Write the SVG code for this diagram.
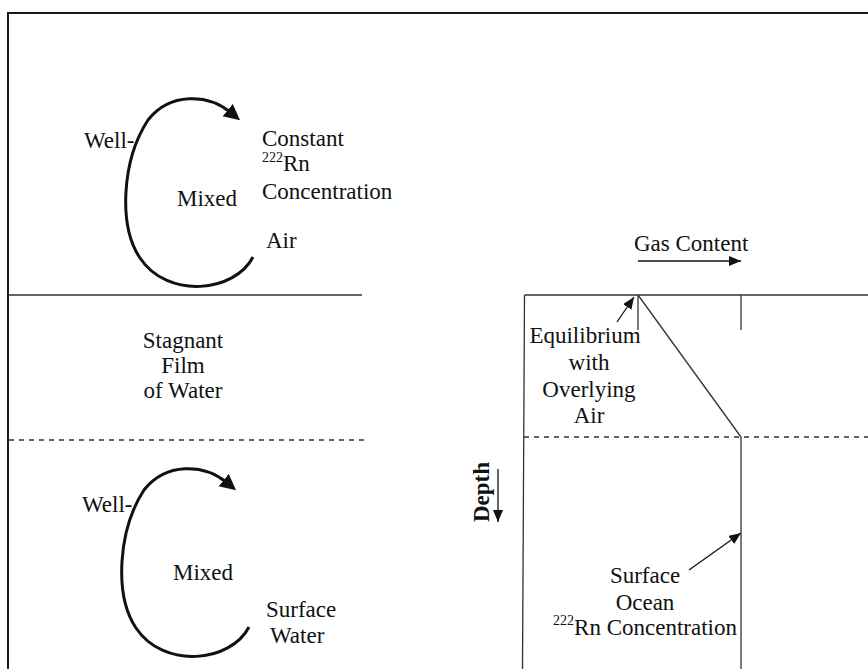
<svg xmlns="http://www.w3.org/2000/svg" width="868" height="669" viewBox="0 0 868 669">
  <style>
    text { font-family: "Liberation Serif", "Times New Roman", serif; font-size: 23px; fill: #111; }
    .sup { font-size: 14px; }
    .mid { text-anchor: middle; }
    .bold { font-weight: bold; }
    .frame { fill: none; stroke: #1a1a1a; stroke-width: 2; }
    .rule { fill: none; stroke: #333; stroke-width: 1.3; }
    .dash { fill: none; stroke: #333; stroke-width: 1.3; stroke-dasharray: 5 5; }
    .loop { fill: none; stroke: #111; stroke-width: 3; marker-end: url(#bigHead); }
    .pointer { fill: none; stroke: #111; stroke-width: 1.3; marker-end: url(#smallHead); }
  </style>
  <defs>
    <marker id="bigHead" markerUnits="userSpaceOnUse" markerWidth="18" markerHeight="18" refX="3" refY="8" orient="auto">
      <path d="M0,0 L16,8 L0,16 Z" fill="#111"/>
    </marker>
    <marker id="smallHead" markerUnits="userSpaceOnUse" markerWidth="14" markerHeight="12" refX="12" refY="5" orient="auto">
      <path d="M0,0 L12,5 L0,10 Z" fill="#111"/>
    </marker>
    <!-- circulating loop with arrowhead, reused for air and water -->
    <path id="loop" d="M253,257 C235,292 168,300 140,258 C118,225 122,160 148,120 C170,92 208,94 230,112"/>
  </defs>

  <!-- outer frame (open at right and bottom) -->
  <path class="frame" d="M8,669 L8,13 L868,13"/>

  <!-- well-mixed air layer -->
  <g id="air-layer">
    <use href="#loop" class="loop"/>
    <text x="84" y="148">Well-</text>
    <text x="177" y="206">Mixed</text>
    <text x="262" y="146">Constant</text>
    <text x="262" y="171"><tspan class="sup" dy="-9">222</tspan><tspan dy="9">Rn</tspan></text>
    <text x="262" y="199">Concentration</text>
    <text x="266" y="248">Air</text>
  </g>

  <!-- stagnant film between the two boundaries -->
  <g id="stagnant-film">
    <line class="rule" x1="9" y1="295" x2="362" y2="295"/>
    <line class="dash" x1="9" y1="440" x2="364" y2="440"/>
    <text class="mid" x="183" y="348">Stagnant</text>
    <text class="mid" x="183" y="373">Film</text>
    <text class="mid" x="183" y="398">of Water</text>
  </g>

  <!-- well-mixed surface water -->
  <g id="water-layer">
    <use href="#loop" class="loop" transform="translate(-4,370)"/>
    <text x="82" y="512">Well-</text>
    <text x="173" y="580">Mixed</text>
    <text x="266" y="617">Surface</text>
    <text x="270" y="643">Water</text>
  </g>

  <!-- gas content vs depth profile -->
  <g id="profile">
    <line class="rule" x1="524.5" y1="295" x2="522.5" y2="669"/>
    <line class="rule" x1="524.5" y1="295" x2="868" y2="295"/>
    <line class="rule" x1="638" y1="295" x2="638" y2="330"/>
    <line class="rule" x1="741" y1="295" x2="741" y2="330"/>
    <line class="rule" x1="638" y1="295" x2="741" y2="437"/>
    <line class="dash" x1="524" y1="437" x2="868" y2="437"/>
    <line class="rule" x1="741" y1="437" x2="741" y2="669"/>
    <text x="634" y="251">Gas Content</text>
    <text class="bold mid" transform="translate(489,492) rotate(-90)">Depth</text>
    <text class="mid" x="585" y="343">Equilibrium</text>
    <text class="mid" x="589" y="370">with</text>
    <text class="mid" x="589" y="397">Overlying</text>
    <text class="mid" x="589" y="423">Air</text>
    <text class="mid" x="645" y="583">Surface</text>
    <text class="mid" x="645" y="610">Ocean</text>
    <text class="mid" x="645" y="635"><tspan class="sup" dy="-10">222</tspan><tspan dy="10">Rn Concentration</tspan></text>
  </g>

  <!-- axis arrows and label pointers -->
  <g id="connectors">
    <line class="pointer" x1="638" y1="261" x2="741" y2="261"/>
    <line class="pointer" x1="498" y1="469" x2="498" y2="522"/>
    <line class="pointer" x1="617" y1="322" x2="634" y2="297"/>
    <line class="pointer" x1="689" y1="570" x2="741" y2="533"/>
  </g>
</svg>
